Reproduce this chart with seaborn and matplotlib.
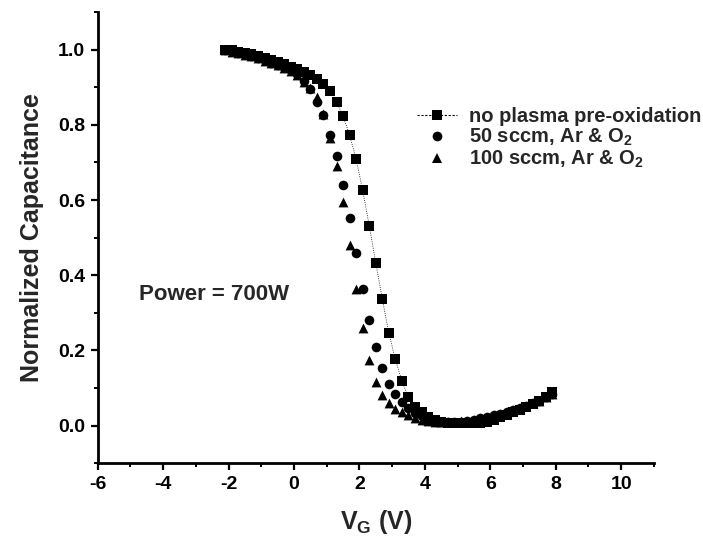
import matplotlib
matplotlib.use("Agg")
import matplotlib.pyplot as plt
from matplotlib.lines import Line2D
from matplotlib.ticker import MultipleLocator
import seaborn as sns
import pandas as pd

# ---- data ----
vg = [-2.1, -1.9, -1.7, -1.5, -1.3, -1.1, -0.9, -0.7, -0.5, -0.3, -0.1,
      0.1, 0.3, 0.5, 0.7, 0.9, 1.1, 1.3, 1.5, 1.7, 1.9, 2.1, 2.3, 2.5, 2.7,
      2.9, 3.1, 3.3, 3.5, 3.7, 3.9, 4.1, 4.3, 4.5, 4.7, 4.9, 5.1, 5.3, 5.5,
      5.7, 5.9, 6.1, 6.3, 6.5, 6.7, 6.9, 7.1, 7.3, 7.5, 7.7, 7.9]

c_no_plasma = [1.000, 0.998, 0.995, 0.992, 0.988, 0.984, 0.979, 0.973, 0.967,
               0.961, 0.955, 0.948, 0.940, 0.932, 0.922, 0.908, 0.890, 0.861,
               0.824, 0.773, 0.709, 0.626, 0.532, 0.433, 0.337, 0.246, 0.176,
               0.118, 0.075, 0.050, 0.035, 0.024, 0.016, 0.010, 0.007, 0.006,
               0.006, 0.006, 0.007, 0.008, 0.010, 0.016, 0.022, 0.028, 0.035,
               0.042, 0.049, 0.057, 0.066, 0.076, 0.088]

c_50sccm = [1.000, 0.996, 0.992, 0.988, 0.983, 0.978, 0.972, 0.966, 0.960,
            0.954, 0.946, 0.935, 0.918, 0.896, 0.862, 0.826, 0.773, 0.717,
            0.639, 0.553, 0.460, 0.364, 0.281, 0.209, 0.152, 0.110, 0.083,
            0.062, 0.046, 0.034, 0.025, 0.018, 0.013, 0.010, 0.009, 0.009,
            0.010, 0.012, 0.015, 0.019, 0.024, 0.028, 0.032, 0.036, 0.041,
            0.046, 0.052, 0.059, 0.066, 0.075, 0.085]

c_100sccm = [0.999, 0.995, 0.991, 0.987, 0.982, 0.977, 0.971, 0.965, 0.959,
             0.952, 0.944, 0.932, 0.915, 0.898, 0.875, 0.830, 0.765, 0.690,
             0.594, 0.481, 0.364, 0.259, 0.174, 0.115, 0.080, 0.059, 0.045,
             0.035, 0.027, 0.021, 0.016, 0.012, 0.010, 0.009, 0.009, 0.010,
             0.011, 0.013, 0.016, 0.020, 0.024, 0.028, 0.032, 0.036, 0.041,
             0.046, 0.052, 0.059, 0.066, 0.075, 0.085]

labels = ["no plasma pre-oxidation",
          "50 sccm, Ar & O$_2$",
          "100 sccm, Ar & O$_2$"]

# ---- style ----
sns.set_style("ticks")
plt.rcParams["font.family"] = ["Liberation Sans", "DejaVu Sans"]
plt.rcParams["font.weight"] = "bold"
plt.rcParams["axes.unicode_minus"] = False
plt.rcParams["mathtext.fontset"] = "custom"
plt.rcParams["mathtext.rm"] = "Liberation Sans:bold"
plt.rcParams["mathtext.it"] = "Liberation Sans:bold"
plt.rcParams["mathtext.bf"] = "Liberation Sans:bold"
plt.rcParams["mathtext.default"] = "rm"

fig = plt.figure(figsize=(7.03, 5.52), dpi=100)
ax = fig.add_axes([0.139, 0.161, 0.791, 0.817])

df1 = pd.DataFrame({"VG": vg, "C": c_no_plasma})
df2 = pd.DataFrame({"VG": vg, "C": c_50sccm})
df3 = pd.DataFrame({"VG": vg, "C": c_100sccm})

sns.lineplot(data=df1, x="VG", y="C", ax=ax, color="black", linestyle=":",
             linewidth=0.6, marker="s", markersize=7, markeredgewidth=0,
             markerfacecolor="black", sort=False, zorder=3)
sns.scatterplot(data=df2, x="VG", y="C", ax=ax, color="black", marker="o",
                s=48, linewidth=0, zorder=2)
sns.scatterplot(data=df3, x="VG", y="C", ax=ax, color="black", marker="^",
                s=50, linewidth=0, zorder=4)

ax.set_xlim(-6, 11)
ax.set_ylim(-0.1, 1.1)
ax.xaxis.set_minor_locator(MultipleLocator(1))
ax.yaxis.set_minor_locator(MultipleLocator(0.1))
ax.set_xticks([-6, -4, -2, 0, 2, 4, 6, 8, 10])
ax.set_xticklabels(["-6", "-4", "-2", "0", "2", "4", "6", "8", "10"])
ax.set_yticks([0.0, 0.2, 0.4, 0.6, 0.8, 1.0])
ax.set_yticklabels(["0.0", "0.2", "0.4", "0.6", "0.8", "1.0"])

for s in ["top", "right"]:
    ax.spines[s].set_visible(False)
for s in ["left", "bottom"]:
    ax.spines[s].set_linewidth(2.0)
    ax.spines[s].set_color("black")

ax.tick_params(which="major", direction="out", length=5, width=1.6,
               labelsize=14, colors="black", pad=4)
ax.tick_params(which="minor", direction="out", length=3, width=1.4,
               colors="black")
for lab in ax.get_xticklabels() + ax.get_yticklabels():
    lab.set_fontweight("bold")

ax.set_xlabel("V$_\\mathrm{G}$ (V)", fontsize=18, fontweight="bold", labelpad=11)
ax.set_ylabel("Normalized Capacitance", fontsize=18, fontweight="bold", labelpad=10)

ax.text(-4.75, 0.35, "Power = 700W", fontsize=16, fontweight="bold",
        va="center", ha="left")

handles = [
    Line2D([], [], color="black", linestyle=(0, (2, 1.5)), linewidth=0.8,
           marker="s", markersize=7, markeredgewidth=0),
    Line2D([], [], color="black", linestyle="none", marker="o",
           markersize=7, markeredgewidth=0),
    Line2D([], [], color="black", linestyle="none", marker="^",
           markersize=7, markeredgewidth=0),
]
leg = ax.legend(handles, labels, loc="upper left",
                bbox_to_anchor=(0.574, 0.79), frameon=False,
                prop={"family": "Liberation Sans", "weight": "bold", "size": 14.5},
                handlelength=2.0, handletextpad=0.6, labelspacing=0.05,
                borderpad=0.0, borderaxespad=0.0)

fig.savefig("out.png", dpi=100)
